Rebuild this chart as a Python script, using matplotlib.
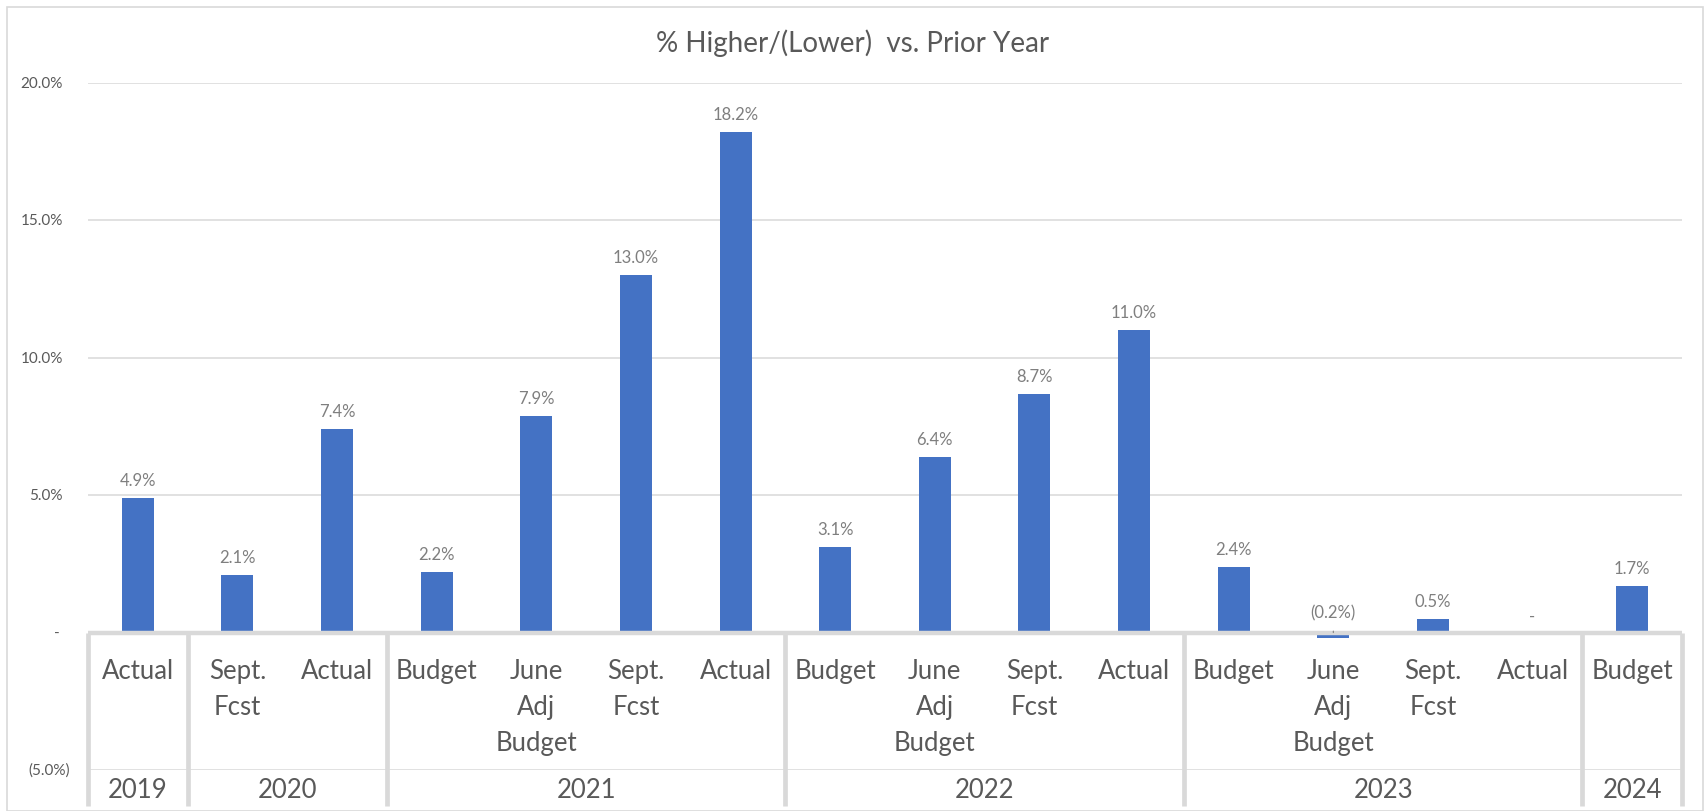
import numpy as np
import matplotlib
matplotlib.use('Agg')
from matplotlib import pyplot as plt
from matplotlib.patches import Rectangle

### DATA ###
categories = ['Actual', 'Sept.\nFcst', 'Actual',
              'Budget', 'June\nAdj\nBudget', 'Sept.\nFcst', 'Actual',
              'Budget', 'June\nAdj\nBudget', 'Sept.\nFcst', 'Actual',
              'Budget', 'June\nAdj\nBudget', 'Sept.\nFcst', 'Actual',
              'Budget']
years = ['2019', '2020', '2021', '2022', '2023', '2024']
year_counts = [1, 2, 4, 4, 4, 1]
values = [4.9, 2.1, 7.4, 2.2, 7.9, 13.0, 18.2, 3.1, 6.4, 8.7, 11.0, 2.4, -0.2, 0.5, 0.0, 1.7]
yticks = [-5, 0, 5, 10, 15, 20]
ytick_labels = ['(5.0%)', '-', '5.0%', '10.0%', '15.0%', '20.0%']
title = '% Higher/(Lower)  vs. Prior Year'

def fmt(v):
    if v == 0:
        return '-'
    if v < 0:
        return '(%.1f%%)' % abs(v)
    return '%.1f%%' % v

plt.rcParams['font.family'] = ['Lato', 'DejaVu Sans']
BAR = '#4472C4'
GRID = '#d9d9d9'
TXT = '#595959'
LBL = '#7f7f7f'

W, H = 1705, 812
fig = plt.figure(figsize=(W / 100, H / 100), dpi=100)
# plot area in pixels: x 88..1682, y(20%)=84, y(-5%)=771
ax = fig.add_axes([88 / W, (H - 771) / H, 1594 / W, 687 / H])

x = np.arange(len(values))
ax.bar(x, values, width=0.32, color=BAR, zorder=2)
ax.set_xlim(-0.5, len(values) - 0.5)
ax.set_ylim(yticks[0], yticks[-1])

ax.set_yticks(yticks)
ax.set_xticks([])
ax.yaxis.grid(True, color=GRID, lw=1.1, zorder=0)
ax.tick_params(left=False, labelleft=False)
for s in ax.spines.values():
    s.set_visible(False)

# horizontal category axis at zero
ax.axhline(0, color=GRID, lw=3.2, zorder=3)

### y tick labels (accounting style) ###
ytr = ax.get_yaxis_transform()
for v, lab in zip(yticks, ytick_labels):
    if v < 0:
        ax.text(-18 / 1594, v, lab, transform=ytr, ha='right', va='center', fontsize=11, color=TXT)
    elif v == 0:
        ax.text(-31 / 1594, v, lab, transform=ytr, ha='center', va='center', fontsize=11, color=TXT)
    else:
        ax.text(-25 / 1594, v, lab, transform=ytr, ha='right', va='center', fontsize=11, color=TXT)

### data labels ###
for xi, v in zip(x, values):
    if v < 0:
        ax.annotate(fmt(v), (xi, 0), xytext=(0, 20), textcoords='offset pixels',
                    ha='center', va='center', fontsize=12, color=LBL, zorder=5)
        ax.annotate('', (xi, v / 2), xytext=(0, 7), textcoords='offset pixels',
                    arrowprops=dict(arrowstyle='-', color=LBL, lw=0.8), zorder=5)
    elif v == 0:
        ax.annotate(fmt(v), (xi, v), xytext=(0, 17), textcoords='offset pixels',
                    ha='center', va='center', fontsize=12, color=LBL)
    else:
        ax.annotate(fmt(v), (xi, v), xytext=(0, 18), textcoords='offset pixels',
                    ha='center', va='center', fontsize=12, color=LBL)

### multi-level category axis ###
px = 5 / 137.4  # data units per pixel
y_box_bottom = -(807 - 633.5) * px
y_cat_top = -(659 - 633.5) * px
y_year = -(790 - 633.5) * px

for xi, c in zip(x, categories):
    ax.text(xi, y_cat_top, c, ha='center', va='top', fontsize=18.5, color=TXT,
            linespacing=1.55, clip_on=False)

bounds = np.concatenate([[0], np.cumsum(year_counts)]) - 0.5
for b in bounds:
    ax.plot([b, b], [0, y_box_bottom], color=GRID, lw=3.4, clip_on=False, zorder=3,
            solid_capstyle='butt')
for i, yr in enumerate(years):
    ax.text((bounds[i] + bounds[i + 1]) / 2, y_year, yr, ha='center', va='center',
            fontsize=18.5, color=TXT, clip_on=False)

### title and chart frame ###
fig.text(0.5, 1 - 43 / H, title, ha='center', va='center', fontsize=20, color=TXT)
fig.patches.append(Rectangle((7 / W, 0.5 / H), (W - 9) / W, (H - 8) / H,
                             transform=fig.transFigure, fill=False, ec=GRID, lw=1.2))

fig.savefig('out.png', dpi=100)
